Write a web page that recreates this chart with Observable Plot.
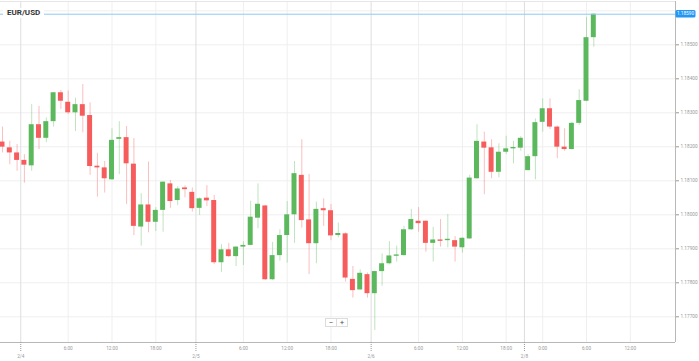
<!DOCTYPE html>
<html><head><meta charset="utf-8">
<script src="https://cdn.jsdelivr.net/npm/d3@7"></script>
<script src="https://cdn.jsdelivr.net/npm/@observablehq/plot@0.6"></script>
<style>
body{margin:0;background:#fff;font-family:Roboto,"Liberation Sans",sans-serif;}
#wrap{position:relative;width:699px;height:361px;overflow:hidden;}
#title{position:absolute;left:3px;top:8px;padding:0 4px;background:#fff;font-weight:bold;font-size:8px;line-height:10px;color:#333;}
#zoom{position:absolute;left:325px;top:318px;display:flex;}
#zoom span{display:block;width:10px;height:7px;border:1px solid #dcdcdc;background:#fff;font-size:8px;line-height:7px;text-align:center;color:#555;margin-right:-1px;}
</style></head>
<body>
<div id="wrap"><div id="chart"></div><div id="title">EUR/USD</div><div id="zoom"><span>−</span><span>+</span></div></div>
<script>
// hourly candles, first one is 3 hours before 2/4 0:00 (continuous session index)
const firstIndex = -3;
const opens = [1.18214,1.18197,1.18182,1.18160,1.18144,1.18265,1.18225,1.18274,1.18359,1.18331,1.18300,1.18324,1.18292,1.18143,1.18138,1.18103,1.18222,1.18227,1.18149,1.17964,1.18029,1.17978,1.18013,1.18091,1.18042,1.18079,1.18066,1.18019,1.18049,1.18042,1.17859,1.17897,1.17877,1.17905,1.17910,1.17990,1.18026,1.17809,1.17880,1.17939,1.18000,1.18116,1.17985,1.17915,1.18018,1.18012,1.17939,1.17944,1.17810,1.17779,1.17824,1.17768,1.17833,1.17856,1.17878,1.17880,1.17956,1.17981,1.17981,1.17916,1.17926,1.17924,1.17924,1.17903,1.17929,1.18106,1.18214,1.18197,1.18125,1.18184,1.18194,1.18196,1.18130,1.18171,1.18272,1.18312,1.18258,1.18199,1.18192,1.18269,1.18334,1.18521];
const highs = [1.18258,1.18216,1.18207,1.18177,1.18324,1.18319,1.18285,1.18360,1.18366,1.18364,1.18343,1.18383,1.18329,1.18181,1.18157,1.18253,1.18274,1.18260,1.18224,1.18062,1.18155,1.18021,1.18097,1.18101,1.18083,1.18085,1.18079,1.18050,1.18086,1.18057,1.17912,1.17916,1.17907,1.17921,1.18040,1.18091,1.18028,1.17919,1.17956,1.18039,1.18157,1.18221,1.18119,1.18037,1.18047,1.18030,1.17976,1.17947,1.17848,1.17838,1.17829,1.17834,1.17885,1.17921,1.17908,1.17966,1.18016,1.18021,1.17982,1.17963,1.17986,1.18001,1.17936,1.17932,1.18116,1.18265,1.18243,1.18221,1.18209,1.18231,1.18216,1.18230,1.18177,1.18282,1.18341,1.18341,1.18261,1.18253,1.18272,1.18368,1.18581,1.18590];
const lows = [1.18182,1.18147,1.18128,1.18093,1.18128,1.18192,1.18212,1.18258,1.18310,1.18295,1.18245,1.18241,1.18116,1.18052,1.18064,1.18101,1.18118,1.18030,1.17939,1.17908,1.17947,1.17951,1.17949,1.18019,1.18027,1.18050,1.18008,1.17998,1.18024,1.17854,1.17831,1.17874,1.17848,1.17851,1.17909,1.17959,1.17807,1.17807,1.17864,1.17858,1.17916,1.17961,1.17824,1.17856,1.17966,1.17924,1.17932,1.17802,1.17755,1.17778,1.17755,1.17660,1.17790,1.17853,1.17861,1.17879,1.17954,1.17949,1.17890,1.17861,1.17905,1.17903,1.17861,1.17887,1.17928,1.18105,1.18059,1.18106,1.18109,1.18177,1.18150,1.18187,1.18129,1.18103,1.18243,1.18251,1.18165,1.18187,1.18191,1.18263,1.18333,1.18493];
const closes = [1.18199,1.18182,1.18160,1.18146,1.18265,1.18225,1.18274,1.18359,1.18334,1.18300,1.18324,1.18290,1.18142,1.18138,1.18106,1.18219,1.18227,1.18150,1.17966,1.18029,1.17978,1.18013,1.18096,1.18039,1.18076,1.18074,1.18018,1.18047,1.18041,1.17859,1.17897,1.17877,1.17905,1.17910,1.17993,1.18031,1.17809,1.17880,1.17939,1.18000,1.18121,1.17983,1.17915,1.18016,1.18012,1.17938,1.17945,1.17814,1.17777,1.17828,1.17768,1.17833,1.17856,1.17879,1.17881,1.17956,1.17986,1.17974,1.17916,1.17926,1.17924,1.17925,1.17905,1.17931,1.18108,1.18216,1.18196,1.18125,1.18184,1.18194,1.18198,1.18225,1.18171,1.18271,1.18312,1.18258,1.18199,1.18192,1.18269,1.18336,1.18521,1.18590];

const hourTicks = [6,12,18,30,36,42,54,60,66,71,77,83];
const hourLabels = ["6:00","12:00","18:00","6:00","12:00","18:00","6:00","12:00","18:00","0:00","6:00","12:00"];
const dateTicks = [-0.5,23.5,47.5,68.5];
const dateLabels = ["2/4","2/5","2/6","2/8"];
const priceTicks = [1.177,1.178,1.179,1.180,1.181,1.182,1.183,1.184,1.185,1.186];
const xDomain = [-3.274, 89.192];
const yDomain = [1.176244, 1.186274];

const up = "#5cb85c", down = "#f75c5c";
const candles = opens.map((o,k)=>({i:k+firstIndex,o,h:highs[k],l:lows[k],c:closes[k]}));
const lastPrice = closes[closes.length-1];
const hourMap = new Map(hourTicks.map((t,k)=>[t,hourLabels[k]]));
const dateMap = new Map(dateTicks.map((t,k)=>[t,dateLabels[k]]));
const minBody = 0.00004;
// the 1.18600 label is hidden behind the current-price badge
const shownPriceTicks = priceTicks.filter(p => Math.abs(p - lastPrice) > 0.0003);

const plot = Plot.plot({
  width:699, height:361,
  marginLeft:0, marginRight:24, marginTop:1, marginBottom:19,
  x:{type:"linear", domain:xDomain, axis:null, label:null},
  y:{type:"linear", domain:yDomain, axis:null, label:null},
  style:{fontFamily:"Roboto, 'Liberation Sans', sans-serif", background:"#fff", overflow:"visible"},
  marks:[
    Plot.ruleY(priceTicks.filter(p=>p<yDomain[1]), {stroke:"#efefef"}),
    Plot.ruleX(hourTicks, {stroke:"#efefef"}),
    Plot.ruleX(dateTicks, {stroke:"#dedede"}),
    Plot.ruleY([yDomain[1]], {stroke:"#e6e6e6"}),
    Plot.ruleX(candles, {x:"i", y1:"l", y2:"h", stroke:d=>d.c>=d.o?up:down, strokeOpacity:0.4, strokeWidth:1}),
    Plot.rect(candles, {
      x1:d=>d.i-0.34, x2:d=>d.i+0.34,
      y1:"o",
      y2:d=>Math.abs(d.c-d.o)<minBody ? d.o+(d.c>=d.o?minBody:-minBody) : d.c,
      fill:d=>d.c>=d.o?up:down
    }),
    Plot.ruleY([lastPrice], {stroke:"#8fcaf5", strokeWidth:1}),
    Plot.ruleX([xDomain[1]], {stroke:"#b8b8b8"}),
    Plot.ruleY([yDomain[0]], {stroke:"#b8b8b8"}),
    Plot.axisY(shownPriceTicks, {anchor:"right", label:null, tickSize:3, tickPadding:2, fontSize:4.7, color:"#999", tickFormat:d=>d.toFixed(5)}),
    Plot.axisX(hourTicks, {anchor:"bottom", label:null, tickSize:0, tickPadding:4, fontSize:4.7, color:"#999", tickFormat:d=>hourMap.get(d)}),
    Plot.axisX(dateTicks, {anchor:"bottom", label:null, tickSize:9, tickPadding:3, fontSize:4.7, color:"#999", strokeDasharray:"1,1", tickFormat:d=>dateMap.get(d)})
  ]
});
document.getElementById("chart").appendChild(plot);

// current price badge on the right axis
const ys = plot.scale("y");
const yp = ys.apply(lastPrice);
const svg = d3.select(plot);
const g = svg.append("g");
g.append("rect").attr("x",675.5).attr("y",yp-3.7).attr("width",20).attr("height",7.4).attr("rx",1.5).attr("fill","#2196f3");
g.append("text").attr("x",685.5).attr("y",yp).attr("dy","0.35em").attr("text-anchor","middle")
  .attr("fill","#fff").attr("font-size",4.7).attr("font-family","Roboto, sans-serif").text(lastPrice.toFixed(5));
</script>
</body></html>
